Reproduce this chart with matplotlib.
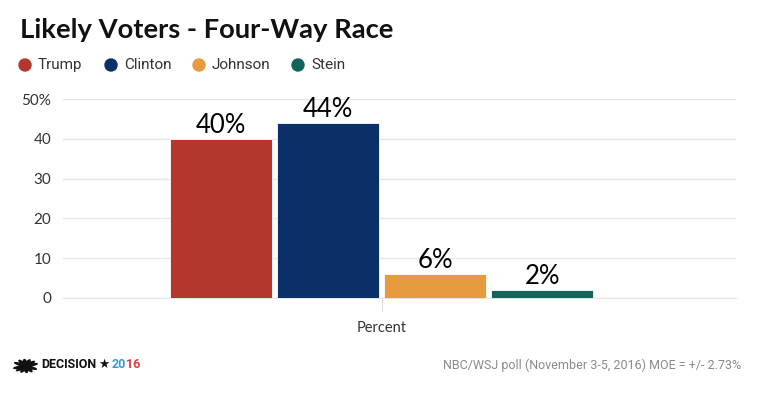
import matplotlib.pyplot as plt
from matplotlib.patches import Ellipse

# data
candidates = ["Trump", "Clinton", "Johnson", "Stein"]
shares = [40, 44, 6, 2]
colors = ["#B4372D", "#0A2F69", "#E89A3E", "#126358"]
category = "Percent"
yticks = [0, 10, 20, 30, 40, 50]

plt.rcParams['font.family'] = ['Lato', 'DejaVu Sans']
cond = ['Roboto', 'DejaVu Sans']

fig = plt.figure(figsize=(7.6, 3.99), dpi=100)
ax = fig.add_axes([63 / 760, 1 - 297.7 / 399, (736 - 63) / 760, (297.7 - 99.3) / 399])

# bars sit around category position 0
n = len(candidates)
xpos = [i - (n - 1) / 2 for i in range(n)]
bars = ax.bar(xpos, shares, width=0.953, color=colors, edgecolor="white", linewidth=0.6, zorder=3)

for b, v in zip(bars, shares):
    ax.text(b.get_x() + b.get_width() / 2, v + 0.2, f"{v}%", ha="center", va="bottom",
            fontsize=18.5, color="black", zorder=4)

ax.set_xlim(-2.98, 3.31)
ax.set_ylim(0, 50)
ax.set_yticks(yticks)
ax.set_yticklabels([f"{t}%" if t == 50 else str(t) for t in yticks], fontsize=11, color="#333333")
ax.tick_params(axis="y", length=0, pad=8.5)
ax.grid(axis="y", color="#e6e6e6", linewidth=1, zorder=0)
ax.set_xticks([0])
ax.set_xticklabels([category], fontsize=10.5, color="#333333")
ax.tick_params(axis="x", length=9, color="#dddddd", pad=8)
for s in ["top", "right", "left"]:
    ax.spines[s].set_visible(False)
ax.spines["bottom"].set_color("#e6e6e6")

# title and legend
fig.text(20 / 760, 1 - 30 / 399, "Likely Voters - Four-Way Race", fontsize=19.7, weight="bold",
         va="center", color="#111111")
leg_x = [25, 111, 199, 298]
for lx, name, c in zip(leg_x, candidates, colors):
    fig.patches.append(Ellipse((lx / 760, 1 - 65 / 399), 12 / 760, 12 / 399, color=c,
                               transform=fig.transFigure))
    fig.text((lx + 13) / 760, 1 - 65 / 399, name, fontsize=11, va="center", color="#333333",
             family=cond)

# footer
fig.text(741 / 760, 1 - 365 / 399, "NBC/WSJ poll (November 3-5, 2016) MOE = +/- 2.73%",
         ha="right", va="center", fontsize=9, color="#8a8a8a", family=cond)

# peacock-ish logo
for ang in [150, 120, 95, 70, 45, 20]:
    fig.patches.append(Ellipse((25.5 / 760, 1 - 366 / 399), 4 / 760, 13 / 399, angle=ang - 90,
                               color="#111111", transform=fig.transFigure))
fig.canvas.draw()
r = fig.canvas.get_renderer()
x = 41
for txt, c in [("DECISION", "#111111"), ("\u2605", "#111111"), ("20", "#3a9ad9"), ("16", "#e0393e")]:
    t = fig.text(x / 760, 1 - 364 / 399, txt, fontsize=9, weight="bold", va="center", color=c,
                 family=cond)
    w = t.get_window_extent(r).width
    x += w + (2 if txt in ("DECISION", "\u2605") else 0)

fig.savefig("out.png", dpi=100)
